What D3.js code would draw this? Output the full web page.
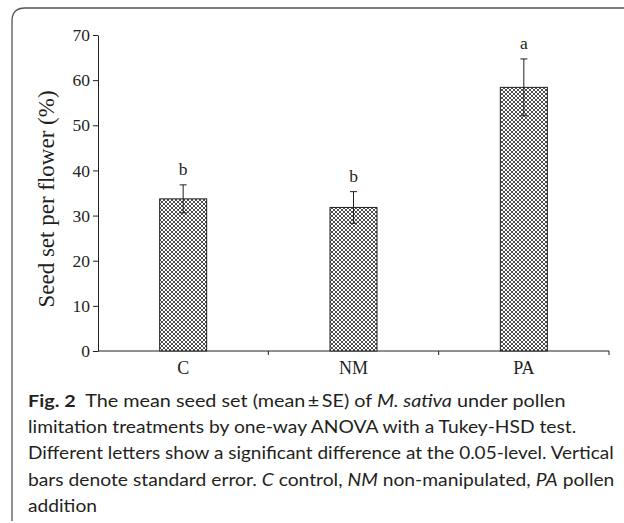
<!DOCTYPE html>
<html>
<head>
<meta charset="utf-8">
<script src="https://cdn.jsdelivr.net/npm/d3@7/dist/d3.min.js"></script>
<style>
  html, body { margin: 0; padding: 0; background: #fff; }
  svg { display: block; }
</style>
</head>
<body>
<svg id="chart" width="624" height="523"></svg>
<script>
// ---- data ----
const categories = ["C", "NM", "PA"];
const means = [33.7, 31.8, 58.4];
const errors = [3.1, 3.5, 6.3];
const letters = ["b", "b", "a"];
const yTicks = [0, 10, 20, 30, 40, 50, 60, 70];
const yLabel = "Seed set per flower (%)";

const svg = d3.select("#chart");
const ink = "#231f20";

// frame
svg.append("path")
  .attr("d", "M12,521 L12,21 Q12,8 25,8 L624,8")
  .attr("fill", "none").attr("stroke", "#555").attr("stroke-width", 1.3);

// pattern
const defs = svg.append("defs");
const pat = defs.append("pattern").attr("id", "hatch")
  .attr("patternUnits", "userSpaceOnUse").attr("width", 4).attr("height", 4);
pat.append("rect").attr("width", 4).attr("height", 4).attr("fill", "#fff");
pat.append("path").attr("d", "M0,0 L4,4 M4,0 L0,4")
  .attr("stroke", "#222").attr("stroke-width", 0.8);

// scales
const y = d3.scaleLinear().domain([0, 70]).range([351, 35]);
const x = d3.scaleBand().domain(categories).range([98, 609])
  .paddingInner(0.724).paddingOuter(0.362);

// y axis
const yAxis = svg.append("g").attr("transform", "translate(98,0)")
  .call(d3.axisLeft(y).tickValues(yTicks).tickSize(5).tickSizeOuter(0).tickPadding(3));
yAxis.selectAll("path, line").attr("stroke", ink);
yAxis.selectAll("text").attr("font-family", "'Liberation Serif', 'Times New Roman', serif")
  .attr("font-size", 17.5).attr("fill", ink);

// x axis line
const [x0, x1] = x.range();
svg.append("line").attr("x1", x0).attr("x2", x1).attr("y1", y(0)).attr("y2", y(0))
  .attr("stroke", ink);
const bounds = d3.range(1, categories.length + 1).map(i => x0 + i * x.step());
svg.selectAll(".xt").data(bounds).join("line")
  .attr("x1", d => d).attr("x2", d => d).attr("y1", y(0)).attr("y2", y(0) + 4)
  .attr("stroke", ink);
svg.selectAll(".xl").data(categories).join("text")
  .attr("x", d => x(d) + x.bandwidth() / 2).attr("y", 374)
  .attr("text-anchor", "middle")
  .attr("font-family", "'Liberation Serif', 'Times New Roman', serif")
  .attr("font-size", 18).attr("fill", ink).text(d => d);

// bars
svg.selectAll(".bar").data(categories).join("rect")
  .attr("x", d => x(d)).attr("width", x.bandwidth())
  .attr("y", (d, i) => y(means[i])).attr("height", (d, i) => y(0) - y(means[i]))
  .attr("fill", "url(#hatch)").attr("stroke", ink).attr("stroke-width", 1);

// error bars
const eb = svg.selectAll(".eb").data(categories).join("g");
eb.append("line")
  .attr("x1", d => x(d) + x.bandwidth() / 2).attr("x2", d => x(d) + x.bandwidth() / 2)
  .attr("y1", (d, i) => y(means[i] + errors[i])).attr("y2", (d, i) => y(means[i] - errors[i]))
  .attr("stroke", ink);
[1, -1].forEach(s => {
  eb.append("line")
    .attr("x1", d => x(d) + x.bandwidth() / 2 - 3.5).attr("x2", d => x(d) + x.bandwidth() / 2 + 3.5)
    .attr("y1", (d, i) => y(means[i] + s * errors[i])).attr("y2", (d, i) => y(means[i] + s * errors[i]))
    .attr("stroke", ink);
});
svg.selectAll(".let").data(categories).join("text")
  .attr("x", d => x(d) + x.bandwidth() / 2)
  .attr("y", (d, i) => y(means[i] + errors[i]) - 10)
  .attr("text-anchor", "middle")
  .attr("font-family", "'Liberation Serif', 'Times New Roman', serif")
  .attr("font-size", 17.5).attr("fill", ink).text((d, i) => letters[i]);

// y label
svg.append("text")
  .attr("transform", `translate(54,${(y(0) + y(70)) / 2 + 6}) rotate(-90)`)
  .attr("text-anchor", "middle")
  .attr("font-family", "'Liberation Serif', 'Times New Roman', serif")
  .attr("font-size", 23).attr("fill", ink).text(yLabel);

// caption
const capLines = [
  { y: 407, w: 538, parts: [["Fig. 2", "b"], ["  The mean seed set (mean\u2009±\u2009SE) of ", "n"], ["M. sativa", "i"], [" under pollen", "n"]] },
  { y: 433, w: 549, parts: [["limitation treatments by one-way ANOVA with a Tukey-HSD test.", "n"]] },
  { y: 459, w: 586, parts: [["Different letters show a significant difference at the 0.05-level. Vertical", "n"]] },
  { y: 486, w: 587, parts: [["bars denote standard error. ", "n"], ["C", "i"], [" control, ", "n"], ["NM", "i"], [" non-manipulated, ", "n"], ["PA", "i"], [" pollen", "n"]] },
  { y: 512, w: 69, parts: [["addition", "n"]] }
];
capLines.forEach(line => {
  const g = svg.append("g");
  const t = g.append("text").attr("x", 0).attr("y", 0)
    .attr("font-family", "Lato, 'Open Sans', sans-serif")
    .attr("font-size", 17.5).attr("fill", ink)
    .attr("xml:space", "preserve").style("white-space", "pre");
  line.parts.forEach(([txt, st]) => {
    const ts = t.append("tspan").text(txt);
    if (st === "b") ts.attr("font-weight", "bold");
    if (st === "i") ts.attr("font-style", "italic");
  });
  const natural = t.node().getComputedTextLength();
  const sx = line.w / natural;
  g.attr("transform", `translate(28,${line.y}) scale(${sx},1)`);
});
</script>
</body>
</html>
